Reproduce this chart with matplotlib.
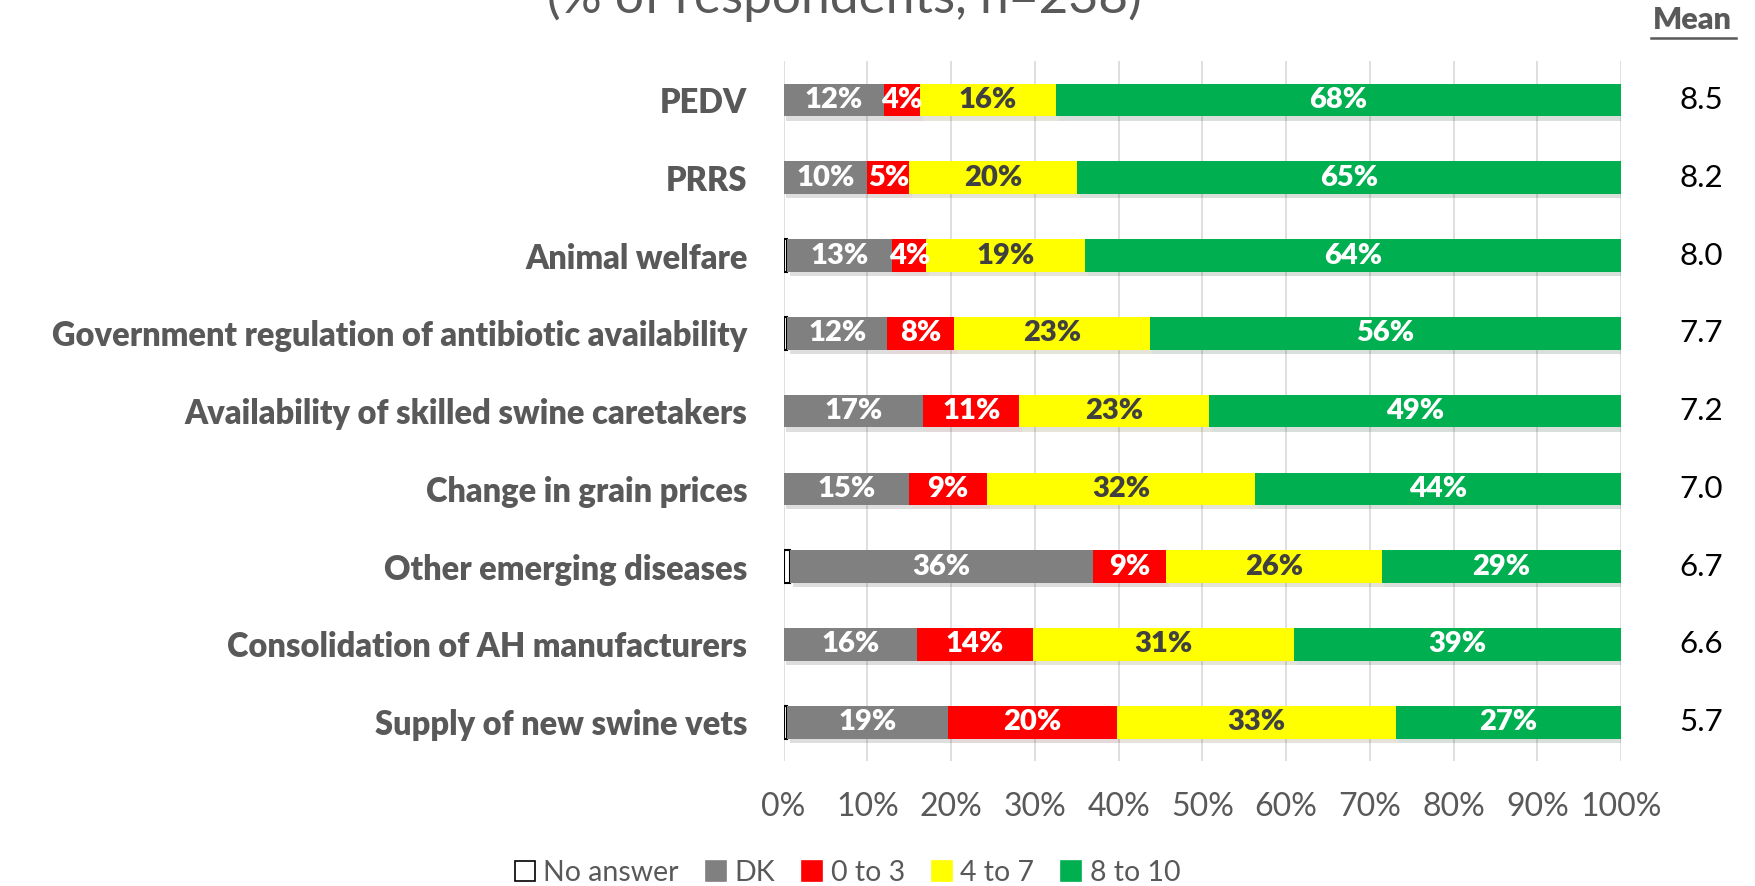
import matplotlib.pyplot as plt
import matplotlib.patheffects as pe
from matplotlib.patches import Patch
from matplotlib.transforms import blended_transform_factory

plt.rcParams['font.family'] = ['Lato', 'DejaVu Sans']

categories = ['PEDV', 'PRRS', 'Animal welfare',
              'Government regulation of antibiotic availability',
              'Availability of skilled swine caretakers',
              'Change in grain prices', 'Other emerging diseases',
              'Consolidation of AH manufacturers', 'Supply of new swine vets']

no_answer = [0, 0, 0.4, 0.4, 0, 0, 0.8, 0, 0.4]
dk = [12.0, 10.0, 12.6, 12.0, 16.7, 15.0, 36.1, 15.9, 19.2]
low = [4.3, 5.0, 4.0, 8.0, 11.4, 9.3, 8.8, 13.9, 20.2]
mid = [16.2, 20.0, 19.0, 23.3, 22.7, 32.0, 25.7, 31.2, 33.3]
high = [67.5, 65.0, 64.0, 56.3, 49.2, 43.7, 28.6, 39.0, 26.9]
means = ['8.5', '8.2', '8.0', '7.7', '7.2', '7.0', '6.7', '6.6', '5.7']

series = [('No answer', no_answer, 'white', None),
          ('DK', dk, '#808080', 'white'),
          ('0 to 3', low, '#FF0000', 'white'),
          ('4 to 7', mid, '#FFFF00', '#404040'),
          ('8 to 10', high, '#00B050', 'white')]

grey = '#595959'

fig = plt.figure(figsize=(17.55, 8.86), dpi=100)
ax = fig.add_axes([0.4465, 0.141, 0.4772, 0.790])

y = list(range(len(categories)))
left = [0] * len(categories)
shadow = [pe.SimplePatchShadow(offset=(2, -3), alpha=0.15), pe.Normal()]
for name, vals, color, tcolor in series:
    if name == 'No answer':
        bars = ax.barh(y, vals, left=left, height=0.42, color=color,
                       edgecolor='black', linewidth=1.5)
    else:
        bars = ax.barh(y, vals, left=left, height=0.42, color=color,
                       path_effects=shadow)
        ax.bar_label(bars, labels=['%d%%' % round(v) for v in vals],
                     label_type='center', color=tcolor, fontsize=21,
                     fontweight='heavy')
    left = [a + b for a, b in zip(left, vals)]

ax.set_xlim(0, 100)
ax.set_ylim(len(categories) - 0.5, -0.5)
ax.set_yticks(y)
ax.set_yticklabels(categories, fontsize=23.5, fontweight='heavy', color=grey)
ax.set_xticks(range(0, 101, 10))
ax.set_xticklabels(['%d%%' % v for v in range(0, 101, 10)], fontsize=23,
                   color=grey)
ax.tick_params(axis='y', length=0, pad=26)
ax.tick_params(axis='x', length=0, pad=22)
ax.grid(axis='x', color='#D9D9D9', linewidth=1.2)
ax.set_axisbelow(True)
for s in ax.spines.values():
    s.set_visible(False)

tr = blended_transform_factory(ax.transAxes, ax.transData)
for i, m in enumerate(means):
    ax.text(1.096, i, m, transform=tr, ha='center', va='center',
            fontsize=22.5, color='black')
fig.text(0.9645, 0.977, 'Mean', ha='center', va='center', fontsize=22,
         fontweight='heavy', color=grey)
fig.add_artist(plt.Line2D([0.9405, 0.989], [0.957, 0.957], color=grey,
                          linewidth=1.8))

fig.text(0.481, 0.985, '(% of respondents, n=238)', ha='center',
         va='baseline', fontsize=37, color=grey)

handles = [Patch(facecolor=c, edgecolor='black' if n == 'No answer' else c,
                 linewidth=1.2, label=n) for n, v, c, t in series]
fig.legend(handles=handles, loc='center', bbox_to_anchor=(0.483, 0.0147),
           ncol=5, frameon=False, fontsize=20.5, handlelength=0.7,
           handleheight=0.7, handletextpad=0.3, columnspacing=0.95,
           labelcolor=grey)

fig.savefig('out.png', dpi=100)
